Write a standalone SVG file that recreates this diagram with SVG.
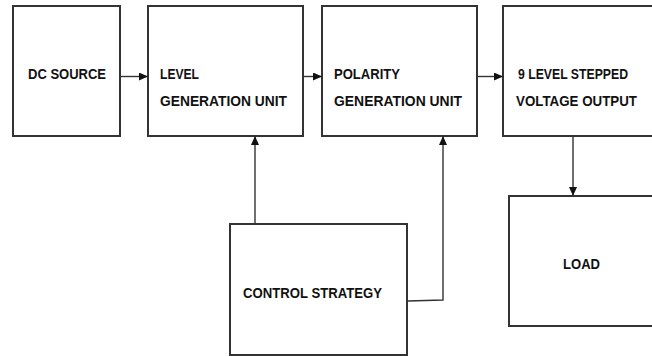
<svg xmlns="http://www.w3.org/2000/svg" width="652" height="356" viewBox="0 0 652 356">
<style>
.box{fill:#fff;stroke:#333;stroke-width:2}
.lbl{font-family:"Liberation Sans",Arial,sans-serif;font-weight:bold;font-size:15.5px;fill:#111}
.con{fill:none;stroke:#333;stroke-width:1.4}
</style>
<defs>
<marker id="ah" markerUnits="userSpaceOnUse" markerWidth="9" markerHeight="8" refX="8" refY="4" orient="auto">
<path d="M0,0 L9,4 L0,8 z" fill="#111"/>
</marker>
</defs>
<rect width="652" height="356" fill="#fff"/>
<g id="dc-source">
<rect class="box" x="13" y="6" width="107" height="130"/>
<text class="lbl" x="28" y="79" textLength="78" lengthAdjust="spacingAndGlyphs">DC SOURCE</text>
</g>
<g id="level-generation">
<rect class="box" x="148" y="6" width="155" height="130"/>
<text class="lbl" x="160" y="79" textLength="39" lengthAdjust="spacingAndGlyphs">LEVEL</text>
<text class="lbl" x="160" y="106" textLength="127" lengthAdjust="spacingAndGlyphs">GENERATION UNIT</text>
</g>
<g id="polarity-generation">
<rect class="box" x="322" y="6" width="155" height="130"/>
<text class="lbl" x="334" y="79" textLength="66" lengthAdjust="spacingAndGlyphs">POLARITY</text>
<text class="lbl" x="334" y="106" textLength="128" lengthAdjust="spacingAndGlyphs">GENERATION UNIT</text>
</g>
<g id="stepped-output">
<path class="box" d="M654,6 H503 V136 H654"/>
<text class="lbl" x="518" y="79" textLength="110" lengthAdjust="spacingAndGlyphs">9 LEVEL STEPPED</text>
<text class="lbl" x="516" y="106" textLength="121" lengthAdjust="spacingAndGlyphs">VOLTAGE OUTPUT</text>
</g>
<g id="control-strategy">
<rect class="box" x="230" y="224" width="177" height="131"/>
<text class="lbl" x="243" y="298" textLength="139" lengthAdjust="spacingAndGlyphs">CONTROL STRATEGY</text>
</g>
<g id="load">
<path class="box" d="M654,196 H509 V326 H654"/>
<text class="lbl" x="563" y="269" textLength="37" lengthAdjust="spacingAndGlyphs">LOAD</text>
</g>
<g id="connectors">
<line class="con" x1="121" y1="76.5" x2="147" y2="76.5" marker-end="url(#ah)"/>
<line class="con" x1="304" y1="76.5" x2="321" y2="76.5" marker-end="url(#ah)"/>
<line class="con" x1="478" y1="76.5" x2="502" y2="76.5" marker-end="url(#ah)"/>
<line class="con" x1="255" y1="223" x2="255" y2="137" marker-end="url(#ah)"/>
<polyline class="con" points="408,301 443,300 443,137" marker-end="url(#ah)"/>
<line class="con" x1="573" y1="137" x2="573" y2="195" marker-end="url(#ah)"/>
</g>
</svg>
